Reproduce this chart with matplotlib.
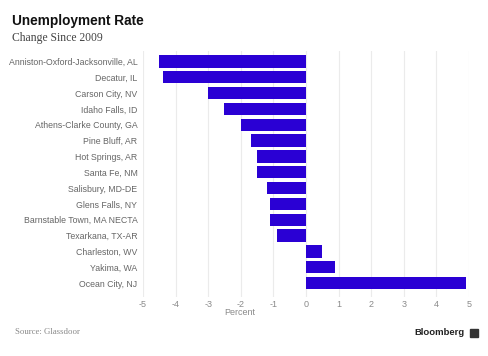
import numpy as np
import matplotlib.pyplot as plt
from matplotlib.patches import Rectangle

# unemployment rate change since 2009, percent
cities = ["Anniston-Oxford-Jacksonville, AL", "Decatur, IL", "Carson City, NV",
          "Idaho Falls, ID", "Athens-Clarke County, GA", "Pine Bluff, AR",
          "Hot Springs, AR", "Santa Fe, NM", "Salisbury, MD-DE", "Glens Falls, NY",
          "Barnstable Town, MA NECTA", "Texarkana, TX-AR", "Charleston, WV",
          "Yakima, WA", "Ocean City, NJ"]
change = [-4.5, -4.4, -3.0, -2.5, -2.0, -1.7, -1.5, -1.5, -1.2, -1.1, -1.1, -0.9,
          0.5, 0.9, 4.9]
xticks = [-5, -4, -3, -2, -1, 0, 1, 2, 3, 4, 5]

fig = plt.figure(figsize=(4.88, 3.56), dpi=100)
ax = fig.add_axes([0.293, 0.166, 0.668, 0.691])

ypos = np.arange(len(cities))
ax.barh(ypos, change, height=0.78, color="#2a00d4", zorder=2)

ax.set_xlim(-5, 5)
ax.set_ylim(14.87, -0.66)
ax.set_xticks(xticks)
ax.set_xticklabels([str(t) for t in xticks])
ax.set_yticks(ypos)
ax.set_yticklabels(cities)
ax.grid(axis="x", color="#ebebeb", linewidth=0.8, zorder=0)
for s in ax.spines.values():
    s.set_visible(False)
ax.tick_params(axis="x", length=0, pad=2.5, labelsize=6.5, labelcolor="#8a8a8a")
ax.tick_params(axis="y", length=0, pad=4, labelsize=6.3, labelcolor="#666666")
for lab in ax.get_xticklabels() + ax.get_yticklabels():
    lab.set_family("Liberation Sans")

fig.text(0.024, 0.940, "Unemployment Rate", fontsize=9.8, fontweight="bold",
         family="Liberation Sans", color="#111111", va="center")
fig.text(0.024, 0.893, "Change Since 2009", fontsize=8.4, family="Liberation Serif",
         color="#444444", va="center")
fig.text(0.492, 0.121, "Percent", fontsize=6.5, family="Liberation Sans",
         color="#8a8a8a", ha="center", va="center")
fig.text(0.031, 0.068, "Source: Glassdoor", fontsize=6.3, family="Liberation Serif",
         color="#888888", va="center")
fig.text(0.951, 0.065, "Bloomberg", fontsize=6.8, fontweight="bold",
         family="Liberation Sans", color="#222222", ha="right", va="center")
fig.patches.append(Rectangle((0.963, 0.054), 0.016, 0.022, transform=fig.transFigure,
                             color="#333333"))

fig.savefig("out.png", dpi=100)
